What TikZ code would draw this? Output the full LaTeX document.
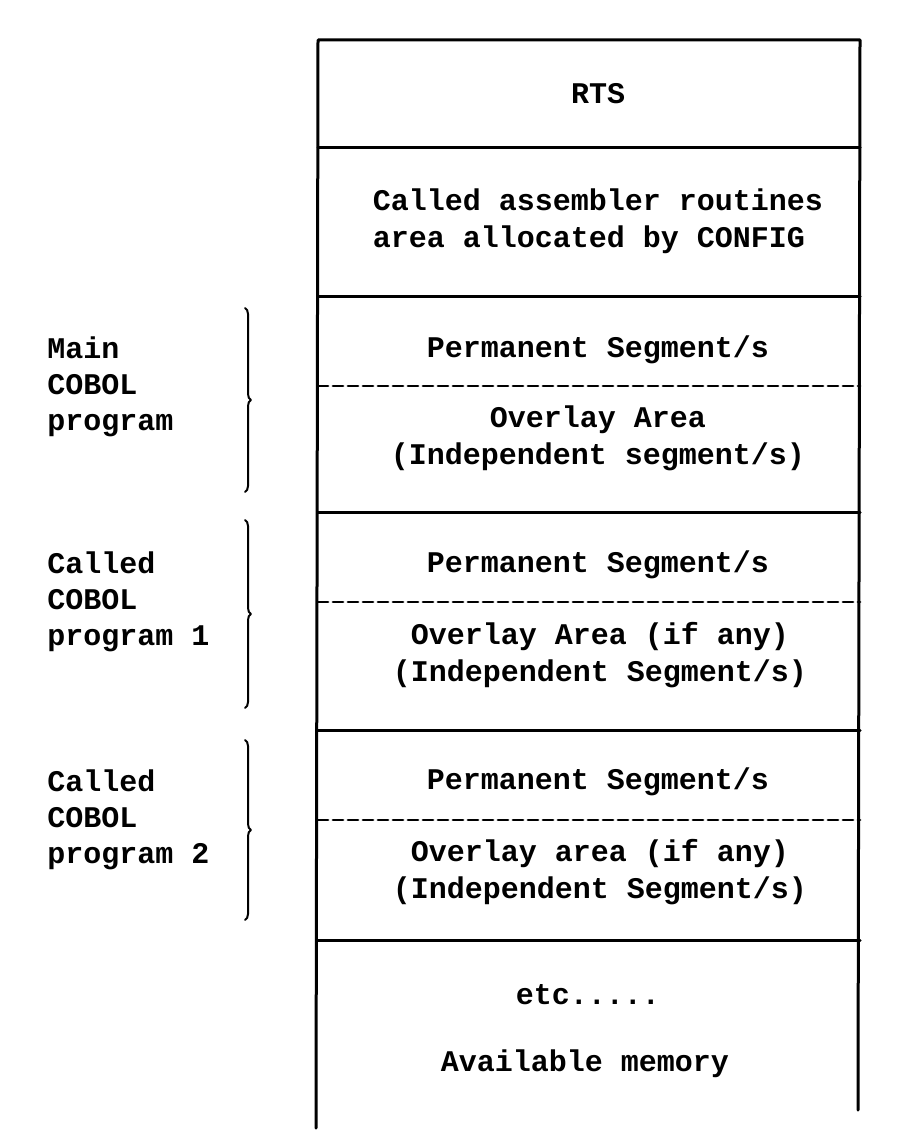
\documentclass[tikz,border=0pt]{standalone}
\usepackage{fontspec}
\setmonofont{Liberation Mono}
\usetikzlibrary{decorations.pathreplacing}
\usetikzlibrary{positioning}
\tikzset{
	memtext/.style={font=\ttfamily\bfseries\fontsize{15}{18.5}\selectfont, align=center, inner sep=0pt},
	sidetext/.style={font=\ttfamily\bfseries\fontsize{15}{18}\selectfont, align=left, anchor=north west, inner sep=0pt},
	wall/.style={line width=1.5pt},
	split/.style={line width=1.4pt, dash pattern=on 5pt off 2.5pt},
	curly/.style={decorate, decoration={brace, amplitude=3pt}, line width=1pt}
}

\begin{document}
\begin{tikzpicture}[line cap=round,line join=round,x=0.5pt,y=-0.5pt]
						\useasboundingbox (0,0) rectangle (913,1145);
						% Speicherblock
						\coordinate (topleft) at (318,40);
						\coordinate (topright) at (860,40);
						\coordinate (botleft) at (316,1128);
						\coordinate (botright) at (858,1110);
						\draw[wall] (botleft) -- (topleft) -- (topright) -- (botright);
						\foreach \y in {147,296,512,730,940}
						\draw[wall] (318,\y) -- (860,\y);
						\foreach \y in {386,602,820}
						\draw[split] (318,\y) -- (860,\y);
						% Texte im Block
						\node[memtext] (rts) at (598,94) {RTS};
						\node[memtext, align=left] (asm) at (598,221) {Called assembler routines\\area allocated by CONFIG};
						\node[memtext] (permone) at (598,350) {Permanent Segment/s};
						\node[memtext] (ovlone) at (598,438) {Overlay Area\\(Independent segment/s)};
						\node[memtext] (permtwo) at (598,565) {Permanent Segment/s};
						\node[memtext] (ovltwo) at (600,655) {Overlay Area (if any)\\(Independent Segment/s)};
						\node[memtext] (permthree) at (598,782) {Permanent Segment/s};
						\node[memtext] (ovlthree) at (600,872) {Overlay area (if any)\\(Independent Segment/s)};
						\node[memtext] (etc) at (588,995) {etc.....};
						\node[memtext] (avail) at (585,1064) {Available memory};
						% Programme links
						\node[sidetext] (mainprog) at (47,336) {Main\\COBOL\\program};
						\node[sidetext] (callone) at (47,551) {Called\\COBOL\\program 1};
						\node[sidetext] (calltwo) at (47,769) {Called\\COBOL\\program 2};
						\draw[curly] (245,308) -- (245,492);
						\draw[curly] (245,520) -- (245,708);
						\draw[curly] (245,740) -- (245,920);
					\end{tikzpicture}
\end{document}
